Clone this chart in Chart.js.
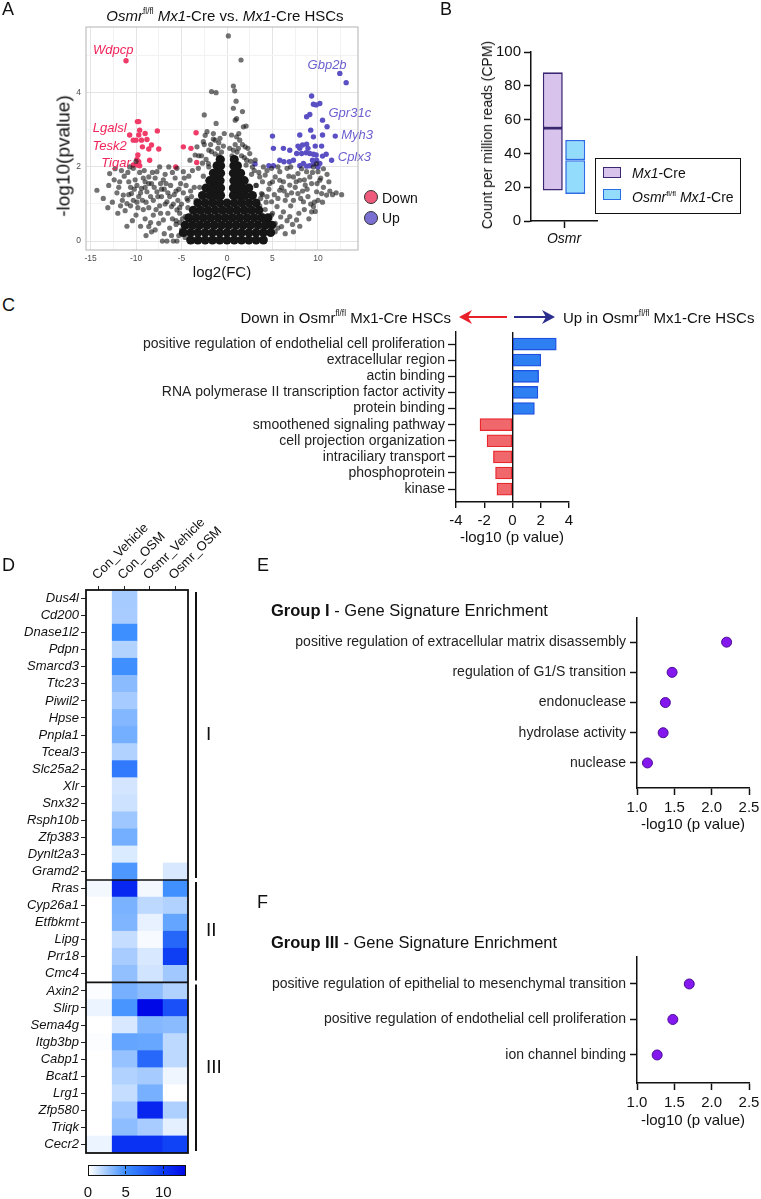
<!DOCTYPE html>
<html>
<head>
<meta charset="utf-8">
<script src="https://cdn.jsdelivr.net/npm/chart.js@4.4.1/dist/chart.umd.min.js"></script>
<style>
body{margin:0;background:#fff;font-family:"Liberation Sans",Arial,Helvetica,sans-serif;color:#111;}
#page{position:relative;width:761px;height:1199px;overflow:hidden;background:#fff;}
canvas{position:absolute;}
.abs{position:absolute;}
.t{position:absolute;white-space:nowrap;line-height:1;z-index:2;}
.l{transform:translate(0,-50%);}
.r{transform:translate(-100%,-50%);}
.c{transform:translate(-50%,-50%);}
.rot{transform:translate(-50%,-50%) rotate(-90deg);}
.dot{position:absolute;width:12px;height:12px;border-radius:50%;border:1px solid #333;z-index:2;}
sup{font-size:0.55em;vertical-align:0.75em;line-height:0;}
.letter{font-size:18px;}
</style>
</head>
<body>
<div id="page">
  <canvas id="volcano" width="380" height="280" style="left:0;top:0"></canvas>
  <canvas id="cpm" width="381" height="260" style="left:380px;top:0"></canvas>
  <canvas id="go" width="761" height="225" style="left:0;top:325px"></canvas>
  <canvas id="heat" width="260" height="680" style="left:0;top:520px"></canvas>
  <canvas id="groupI" width="501" height="240" style="left:260px;top:600px"></canvas>
  <canvas id="groupIII" width="501" height="200" style="left:260px;top:945px"></canvas>

  <!-- A -->
  <div class="t l letter" style="left:2px;top:9px">A</div>
  <div class="t c" style="left:225px;top:15px;font-size:15px"><i>Osmr</i><sup>fl/fl</sup> <i>Mx1</i>-Cre vs. <i>Mx1</i>-Cre HSCs</div>
  <div class="t rot" style="left:63px;top:156px;font-size:19px">-log10(pvalue)</div>
  <div class="t c" style="left:222px;top:271px;font-size:15px">log2(FC)</div>
  <div class="dot" style="left:364px;top:190px;background:#ee5a7c"></div>
  <div class="t l" style="left:382px;top:198px;font-size:14px">Down</div>
  <div class="dot" style="left:364px;top:211px;background:#7a70d2"></div>
  <div class="t l" style="left:382px;top:218px;font-size:14px">Up</div>

  <!-- B -->
  <div class="t l letter" style="left:440px;top:9px">B</div>
  <div class="t rot" style="left:487px;top:135px;font-size:14px">Count per million reads (CPM)</div>
  <div class="abs" style="left:595px;top:158px;width:144px;height:54px;border:1.5px solid #111"></div>
  <div class="abs" style="left:603px;top:167px;width:16px;height:9px;background:#d7c3ec;border:1.5px solid #3b2771"></div>
  <div class="t l" style="left:632px;top:173px;font-size:14px"><i>Mx1</i>-Cre</div>
  <div class="abs" style="left:603px;top:189px;width:16px;height:9px;background:#93dcfb;border:1.5px solid #2a6ee6"></div>
  <div class="t l" style="left:632px;top:197px;font-size:14px"><i>Osmr</i><sup>fl/fl</sup> <i>Mx1</i>-Cre</div>

  <!-- C -->
  <div class="t l letter" style="left:2px;top:305px">C</div>
  <div class="t r" style="left:451px;top:317px;font-size:15px">Down in Osmr<sup>fl/fl</sup> Mx1-Cre HSCs</div>
  <div class="t l" style="left:563px;top:317px;font-size:15px">Up in Osmr<sup>fl/fl</sup> Mx1-Cre HSCs</div>
  <svg class="abs" style="left:450px;top:308px" width="115" height="18">
    <line x1="57" y1="9" x2="16" y2="9" stroke="#e8202a" stroke-width="2"/>
    <polygon points="9,9 22,2 18,9 22,16" fill="#e8202a"/>
    <line x1="64" y1="9" x2="98" y2="9" stroke="#2b2e8c" stroke-width="2"/>
    <polygon points="105,9 92,2 96,9 92,16" fill="#2b2e8c"/>
  </svg>
  <div class="t c" style="left:512px;top:536px;font-size:15px">-log10 (p value)</div>

  <!-- D -->
  <div class="t l letter" style="left:2px;top:565px">D</div>
  <div id="colorbar" class="abs" style="left:88px;top:1165px;width:98px;height:11px;border:1.5px solid #111;box-sizing:border-box"></div>

  <!-- E -->
  <div class="t l letter" style="left:257px;top:565px">E</div>
  <div class="t l" style="left:271px;top:610px;font-size:16.5px"><b>Group I</b> - Gene Signature Enrichment</div>
  <div class="t c" style="left:693px;top:823px;font-size:15px">-log10 (p value)</div>

  <!-- F -->
  <div class="t l letter" style="left:257px;top:902px">F</div>
  <div class="t l" style="left:271px;top:942px;font-size:16.5px"><b>Group III</b> - Gene Signature Enrichment</div>
  <div class="t c" style="left:693px;top:1119px;font-size:15px">-log10 (p value)</div>
</div>

<script>
// ---------- A: volcano (log2FC, -log10 p) ----------
const volcanoXGrid = [-15, -12.5, -10, -7.5, -5, -2.5, 0, 2.5, 5, 7.5, 10, 12.5];
const volcanoXLabels = [-15, -10, -5, 0, 5, 10];
const volcanoYGrid = [0, 1, 2, 3, 4, 5];
const volcanoYLabels = [0, 2, 4];

// scattered non-significant genes
const volcanoOther = [
  [0.15,5.53],[1.54,4.88],[0.7,4.18],[0.84,4.05],[-1.7,4.03],[-1.2,4.0],[1.0,3.77],[1.7,3.49],[-2.5,3.4],[0.7,3.58],
  [1.06,3.3],[0.9,3.26],[1.8,3.08],[2.1,3.1],[-1.2,3.17],[-1.5,2.9],[-2.2,2.95],[-0.77,2.77],[-1.3,2.72],[-0.4,2.56],
  [-1.7,2.41],[-3.3,2.54],[-3.5,2.32],[-2.6,2.68],[-2.05,2.09],[-3.15,1.96],[-4.07,2.18],[-4.8,1.87],[-5.5,1.96],[-6.4,2.0],
  [1.06,2.81],[0.5,2.86],[1.4,2.72],[2.0,2.54],[2.5,2.36],[3.1,2.18],[2.16,2.18],[1.25,2.5],[0.7,2.45],[-0.9,2.3],
  [-1.0,2.5],[-2.3,2.2],[-2.8,2.3],[1.6,2.3],[2.8,2.0],[-1.8,2.6],
  [-0.6,2.4],[-1.3,2.35],[-2.0,2.45],[-2.5,2.6],[-1.5,2.75],[-0.9,2.65],[-0.5,2.2],[0.55,2.3],[1.1,2.4],[1.7,2.6],
  [2.3,2.5],[1.3,2.9],[0.9,2.6],[1.9,2.25],[2.6,2.15],[-2.7,2.1],[-3.1,2.3],[-2.4,2.85],[0.3,2.5],[-0.3,2.9],
  [-7.4,2.0],[-7.7,1.87],[-8.6,1.73],[-10.3,1.96],[-10.7,2.0],[-11.8,1.6],[-12.9,1.82],[-14.3,1.37],[-11.4,1.24],[-11.0,1.01],
  [-11.2,0.82],[-10.5,1.28],[-9.9,1.5],[-9.4,1.42],[-8.8,1.33],[-8.3,1.55],[-7.7,1.33],[-7.2,1.2],[-6.6,1.06],[-6.1,0.93],
  [-5.5,0.84],[-5.2,0.75],[-4.6,0.66],[-8.6,0.39],[-8.3,0.25],[-7.5,0.48],[-7.0,0.57],[-7.1,0],[-6.6,0],[-5.9,0],
  [-5.5,0],[-3.7,0],[-3.15,0],[-4.07,0.21],[-3.3,0.3],[-2.8,0.43],
  [-9.6,1.85],[-9.2,1.7],[-9.0,1.6],[-10.1,1.65],[-10.6,1.45],[-9.7,1.2],[-9.3,1.1],[-8.9,1.05],[-8.4,1.2],[-8.0,1.45],
  [-7.9,1.7],[-7.3,1.55],[-6.9,1.4],[-6.5,1.3],[-6.2,1.5],[-5.8,1.25],[-5.4,1.1],[-5.0,1.0],[-4.8,1.3],[-5.1,1.55],
  [-5.7,1.7],[-6.8,1.8],[-4.5,1.5],[-4.2,1.75],[-3.9,1.2],[-4.3,0.9],[-6.0,0.6],[-6.5,0.75],[-7.8,0.85],[-8.1,0.7],
  [-9.0,0.6],[-9.8,0.9],[-10.3,1.1],[-12.1,1.3],[-12.6,1.05],[-11.7,0.95],[-13.0,1.5],[-11.3,1.75],[-10.0,2.15],[-10.9,1.85],
  [-12.3,1.95],[-9.5,0.4],[-8.9,0.15],[-7.9,0.3],[-6.9,0.2],[-6.3,0.35],[-5.6,0.45],[-5.0,0.3],[-4.6,0.1],[-3.9,0.55],
  [-13.6,1.15],[-10.0,0.7],[-9.1,1.9],[-8.2,1.85],[-7.0,1.65],[-6.0,1.85],[-5.3,1.4],[-4.4,1.15],[-8.6,0.9],[-7.4,0.95],
  [-11.9,1.45],[-12.4,1.65],[-11.6,1.9],[-10.8,1.6],[-10.2,1.4],[-10.8,1.25],[-11.5,1.1],[-10.6,0.95],[-9.9,1.05],[-9.5,1.3],
  [-9.0,1.45],[-8.6,1.55],[-8.1,1.1],[-7.6,1.2],[-7.2,1.4],[-6.7,1.55],[-6.3,1.2],[-5.9,1.0],[-5.2,0.9],[-4.9,0.6],
  [-4.4,0.4],[-5.3,0.15],[-6.1,0.15],[-7.3,0.75],[-8.4,0.5],[-9.2,0.85],[-10.4,0.55],[-12.0,0.75],[-13.1,0.9],[-11.0,0.4],
  [-6.8,1.0],[-5.6,1.35],[-4.7,1.7],[-3.8,1.9],[-3.6,1.45],[-3.4,1.1],[-4.0,1.35],
  [-5.2,0.5],[-5.0,0.2],[-4.3,1.1],[-3.0,1.45],[-2.6,1.75],[-2.0,2.0],[-5.6,0.55],
  [3.6,1.73],[4.2,1.78],[4.7,1.55],[5.3,1.73],[5.8,1.87],[6.6,1.96],[7.3,1.73],[8.0,1.64],[8.6,1.51],[9.1,1.73],
  [9.5,2.0],[10.0,1.87],[10.2,1.64],[9.85,1.33],[10.4,1.28],[10.95,1.24],[9.5,0.93],[9.3,0.79],[7.65,0.57],[6.9,0.66],
  [6.2,0.79],[5.5,0.93],[4.9,1.06],[4.4,1.2],[3.8,1.28],[5.8,1.37],[6.6,1.24],[7.3,1.1],[7.8,1.28],[8.4,1.06],
  [8.9,1.2],[6.0,0.39],[5.3,0.48],[4.5,0.57],[4.0,0.34],[2.9,0.21],[3.4,0.48],[5.8,1.64],[6.9,1.51],[7.8,1.82],
  [8.75,1.87],[9.85,2.09],[4.9,1.96],[3.2,1.5],[3.0,1.9],[4.0,2.0],[7.0,2.0],[8.2,1.95],[10.3,1.7],[11.2,1.6],
  [9.3,1.55],[8.3,1.35],[7.0,0.95],[6.4,1.1],[5.0,0.75],[4.2,0.85],[3.6,0.95],[8.0,0.4],[9.6,1.05],[10.6,1.95],
  [11.6,1.25],[12.0,1.3],[9.7,0.8],[5.2,1.25],[6.2,1.6],[7.5,1.45],[4.6,1.4],[3.9,1.6],
  [4.4,1.9],[5.0,1.6],[5.6,1.15],[6.3,1.35],[7.1,1.3],[7.6,1.6],[8.1,1.15],[8.8,1.4],[9.2,1.0],[10.0,1.1],
  [10.6,1.45],[11.0,1.8],[9.9,1.55],[8.5,0.85],[7.9,0.75],[7.2,0.45],[6.6,0.55],[5.9,0.65],[5.3,0.25],[4.8,0.4],
  [4.3,1.05],[3.7,1.15],[3.5,1.85],[5.6,2.0],[6.0,1.45],[6.8,1.75],[8.5,1.65],[9.4,1.85],[10.5,1.05],[11.3,1.35],
  [12.6,1.25],[9.0,0.6],[7.3,0.25],[6.4,0.2],[3.9,0.7],
  [4.9,0.7],[5.2,0.45],[3.9,1.25],[3.2,1.5],[2.7,1.8],[2.1,2.05],[5.6,0.35]
];
// dense core of the volcano
const volcanoCore = [
  [-4.0,0.03],[-3.2,0.03],[-2.4,0.03],[-1.6,0.03],[-0.8,0.03],[0,0.03],[0.8,0.03],[1.6,0.03],[2.4,0.03],[3.2,0.03],[4.0,0.03],
  [-4.8,0.23],[-4.0,0.23],[-3.2,0.23],[-2.4,0.23],[-1.6,0.23],[-0.8,0.23],[0,0.23],[0.8,0.23],[1.6,0.23],[2.4,0.23],[3.2,0.23],[4.0,0.23],[4.8,0.23],
  [-4.6,0.43],[-3.8,0.43],[-3.0,0.43],[-2.2,0.43],[-1.4,0.43],[-0.6,0.43],[0.2,0.43],[1.0,0.43],[1.8,0.43],[2.6,0.43],[3.4,0.43],[4.2,0.43],[4.9,0.43],
  [-4.2,0.63],[-3.4,0.63],[-2.6,0.63],[-1.8,0.63],[-1.0,0.63],[-0.2,0.63],[0.6,0.63],[1.4,0.63],[2.2,0.63],[3.0,0.63],[3.8,0.63],[4.5,0.63],
  [-3.7,0.83],[-2.9,0.83],[-2.1,0.83],[-1.3,0.83],[-0.5,0.83],[0.3,0.83],[1.1,0.83],[1.9,0.83],[2.7,0.83],[3.5,0.83],
  [-3.2,1.03],[-2.4,1.03],[-1.6,1.03],[-0.8,1.03],[0,1.03],[0.8,1.03],[1.6,1.03],[2.4,1.03],[3.2,1.03],
  [-2.7,1.23],[-1.9,1.23],[-1.2,1.23],[-0.7,1.23],[0.7,1.23],[1.3,1.23],[2.0,1.23],[2.8,1.23],
  [-2.3,1.43],[-1.6,1.43],[-1.1,1.43],[-0.7,1.43],[0.7,1.43],[1.1,1.43],[1.7,1.43],[2.4,1.43],
  [-1.9,1.63],[-1.3,1.63],[-0.75,1.63],[0.75,1.63],[1.3,1.63],[1.9,1.63],
  [-1.5,1.83],[-1.05,1.83],[-0.7,1.83],[0.7,1.83],[1.1,1.83],[1.5,1.83],
  [-1.1,2.03],[-0.7,2.03],[0.75,2.03],[1.15,2.03],
  [-0.75,2.2],[0.8,2.2]
];
const volcanoDown = [
  [-11.1,4.86],[-9.85,3.22],[-9.7,3.22],[-10.7,2.86],[-9.6,2.99],[-9.0,2.9],[-7.66,2.97],[-10.0,2.72],[-9.4,2.72],[-9.7,2.86],
  [-10.3,2.72],[-8.8,2.74],[-9.3,2.54],[-8.3,2.59],[-8.6,2.48],[-7.5,2.48],[-9.8,2.32],[-8.5,2.18],[-10.3,2.05],[-9.85,2.05],
  [-9.6,2.03],[-9.7,2.14],[-9.9,2.2],[-4.8,2.54],[-3.96,2.5],[-3.4,2.92],[-3.33,2.12],[-5.64,2.0]
];
const volcanoUp = [
  [12.4,4.52],[13.1,4.27],[9.3,3.91],[9.5,3.69],[9.8,3.67],[10.2,3.71],[8.75,3.35],[9.1,3.41],[10.5,3.26],[11.0,3.08],
  [5.0,2.83],[9.2,2.99],[9.5,2.81],[10.5,2.86],[11.9,2.83],[8.0,2.86],[5.1,2.5],[6.2,2.5],[6.9,2.45],[7.8,2.56],
  [8.0,2.5],[8.3,2.59],[8.75,2.61],[8.9,2.5],[8.7,2.38],[9.1,2.36],[9.5,2.34],[9.8,2.32],[7.66,2.36],[8.2,2.36],
  [7.3,2.18],[6.85,2.14],[6.26,2.14],[5.8,2.18],[8.4,2.09],[8.75,2.02],[9.1,2.03],[9.5,2.08],[10.0,2.0],[10.5,2.29],
  [10.9,2.34],[11.5,2.18],[10.4,2.56],[9.7,2.56],[3.08,2.08],[4.6,2.03],[5.1,2.03],[9.4,2.18],[9.85,2.18],[10.2,2.09],[8.0,2.03]
];
const downGenes = ['Wdpcp', 'Lgalsl', 'Tesk2', 'Tigar'];
const downGeneFC = [-12.5, -12.9, -12.9, -12.2];
const downGeneP = [5.15, 3.05, 2.56, 2.1];
const upGenes = ['Gbp2b', 'Gpr31c', 'Myh3', 'Cplx3'];
const upGeneFC = [11.0, 13.5, 14.3, 14.0];
const upGeneP = [4.74, 3.45, 2.86, 2.26];

// ---------- B: CPM floating bars (min / median / max) ----------
const cpmCategory = ['Osmr'];
const cpmGroups = ['Mx1-Cre', 'Osmr fl/fl Mx1-Cre'];
const cpmMin = [18, 16];
const cpmMedian = [55, 36];
const cpmMax = [88, 48];

// ---------- C: GO terms ----------
const goTerms = [
  'positive regulation of endothelial cell proliferation', 'extracellular region', 'actin binding',
  'RNA polymerase II transcription factor activity', 'protein binding', 'smoothened signaling pathway',
  'cell projection organization', 'intraciliary transport', 'phosphoprotein', 'kinase'
];
const goValues = [3.1, 2.0, 1.85, 1.8, 1.55, -2.3, -1.8, -1.35, -1.2, -1.1];
const goTicks = [-4, -2, 0, 2, 4];

// ---------- D: heatmap ----------
const heatGenes = ['Dus4l','Cd200','Dnase1l2','Pdpn','Smarcd3','Ttc23','Piwil2','Hpse','Pnpla1','Tceal3','Slc25a2','Xlr',
  'Snx32','Rsph10b','Zfp383','Dynlt2a3','Gramd2','Rras','Cyp26a1','Etfbkmt','Lipg','Prr18','Cmc4','Axin2','Slirp',
  'Sema4g','Itgb3bp','Cabp1','Bcat1','Lrg1','Zfp580','Triqk','Cecr2'];
const heatConditions = ['Con_Vehicle', 'Con_OSM', 'Osmr_Vehicle', 'Osmr_OSM'];
const conVehicle = [0,0,0,0,0,0,0,0,0,0,0,0,0,0,0,0,0, 0.3,0,0,0,0,0, 0.1,0.5,0,0.1,0,0,0,0,0,0.5];
const conOSM = [2.3,2.25,5.0,1.95,4.95,3.0,2.3,3.2,3.6,2.0,6.2,1.1,1.3,2.5,3.6,0.95,4.6,
  11.2,3.4,3.3,1.5,2.25,2.8, 3.5,4.7,1.0,4.0,2.7,2.0,1.5,2.4,2.9,10.6];
const osmrVehicle = [0,0,0,0,0,0,0,0,0,0,0,0,0,0,0,0,0, 0.3,1.7,0.6,0.2,1.0,1.2,
  2.9,13,3.2,3.9,7.3,2.3,3.5,11.3,2.25,10.6];
const osmrOSM = [0,0,0,0,0,0,0,0,0,0,0,0,0,0,0,0,1.0, 4.9,2.0,4.0,7.4,9.8,2.4,
  2.0,8.8,3.0,1.7,1.7,0.4,0,2.1,0.7,9.6];
const heatColumns = [conVehicle, conOSM, osmrVehicle, osmrOSM];
const geneGroups = ['I', 'II', 'III'];
const groupSizes = [17, 6, 10];
const heatMax = 13;
const colorbarTicks = [0, 5, 10];

// ---------- E / F: enrichment dots ----------
const groupITerms = ['positive regulation of extracellular matrix disassembly', 'regulation of G1/S transition',
  'endonuclease', 'hydrolase activity', 'nuclease'];
const groupIValues = [2.2, 1.47, 1.38, 1.35, 1.14];
const groupIIITerms = ['positive regulation of epithelial to mesenchymal transition',
  'positive regulation of endothelial cell proliferation', 'ion channel binding'];
const groupIIIValues = [1.7, 1.48, 1.27];
const enrichTicks = [1.0, 1.5, 2.0, 2.5];

// ---------- styling helpers ----------
const FONT = '"Liberation Sans", Arial, Helvetica, sans-serif';
Chart.defaults.font.family = FONT;
Chart.defaults.color = '#111';
Chart.defaults.animation = false;
Chart.defaults.plugins.legend.display = false;
Chart.defaults.plugins.tooltip.enabled = false;

// fix an axis box size so the plot area lands where the figure has it
function pin(size) {
  return s => {
    if (s.isHorizontal()) s.height = size; else s.width = size;
    s.paddingLeft = s.paddingRight = s.paddingTop = s.paddingBottom = 0;
  };
}
function useTicks(values) {
  return s => { s.ticks = values.map(v => ({value: v})); };
}
const pts = a => a.map(([x, y]) => ({x, y}));

const heatStops = [[0, [255,255,255]], [5, [61,142,255]], [10, [13,60,245]], [13, [0,8,232]]];
function heatColor(v) {
  for (let i = 1; i < heatStops.length; i++) {
    const [v1, c1] = heatStops[i];
    const [v0, c0] = heatStops[i - 1];
    if (v <= v1 || i === heatStops.length - 1) {
      const t = Math.max(0, Math.min(1, (v - v0) / (v1 - v0)));
      const c = c0.map((ch, k) => Math.round(ch + (c1[k] - ch) * t));
      return 'rgb(' + c.join(',') + ')';
    }
  }
}

const framePlugin = {
  id: 'frame',
  afterDraw(chart, args, opts) {
    if (!opts || !opts.color) return;
    const {ctx, chartArea: a} = chart;
    ctx.save();
    ctx.strokeStyle = opts.color;
    ctx.lineWidth = opts.width || 1;
    ctx.strokeRect(a.left, a.top, a.right - a.left, a.bottom - a.top);
    ctx.restore();
  }
};

const geneLabelPlugin = {
  id: 'geneLabels',
  afterDatasetsDraw(chart) {
    const {ctx, scales: {x, y}} = chart;
    ctx.save();
    ctx.font = 'italic 13px ' + FONT;
    ctx.textAlign = 'center';
    ctx.textBaseline = 'middle';
    ctx.fillStyle = '#f0245a';
    downGenes.forEach((g, i) => ctx.fillText(g, x.getPixelForValue(downGeneFC[i]), y.getPixelForValue(downGeneP[i])));
    ctx.fillStyle = '#6a5fd0';
    upGenes.forEach((g, i) => ctx.fillText(g, x.getPixelForValue(upGeneFC[i]), y.getPixelForValue(upGeneP[i])));
    ctx.restore();
  }
};

const groupPlugin = {
  id: 'groups',
  afterDatasetsDraw(chart) {
    const {ctx, chartArea: a, scales: {y}} = chart;
    const rowH = (a.bottom - a.top) / heatGenes.length;
    ctx.save();
    ctx.strokeStyle = '#111';
    ctx.fillStyle = '#111';
    let start = 0;
    geneGroups.forEach((name, g) => {
      const end = start + groupSizes[g];
      const top = y.getPixelForValue(start) - rowH / 2;
      const bottom = y.getPixelForValue(end - 1) + rowH / 2;
      if (start > 0) {
        ctx.lineWidth = 1.6;
        ctx.beginPath(); ctx.moveTo(a.left, top); ctx.lineTo(a.right, top); ctx.stroke();
      }
      ctx.lineWidth = 2;
      ctx.beginPath(); ctx.moveTo(a.right + 8, top + 2); ctx.lineTo(a.right + 8, bottom - 2); ctx.stroke();
      ctx.font = '19px ' + FONT;
      ctx.textAlign = 'left';
      ctx.textBaseline = 'middle';
      ctx.fillText(name, a.right + 18, (top + bottom) / 2);
      start = end;
    });
    ctx.restore();
  }
};

// ---------- A ----------
new Chart(document.getElementById('volcano'), {
  type: 'scatter',
  data: {datasets: [
    {data: pts(volcanoOther), backgroundColor: 'rgba(20,20,20,0.6)', pointRadius: 2.6, borderWidth: 0},
    {data: pts(volcanoCore), backgroundColor: '#161616', pointRadius: 4.5, borderWidth: 0},
    {data: pts(volcanoDown), backgroundColor: '#f03a68', pointRadius: 2.7, borderWidth: 0},
    {data: pts(volcanoUp), backgroundColor: '#5b4fc4', pointRadius: 2.7, borderWidth: 0}
  ]},
  options: {
    responsive: false,
    layout: {padding: {top: 27, right: 22, left: 0, bottom: 0}},
    scales: {
      x: {
        type: 'linear', min: -15.5, max: 14.4,
        afterBuildTicks: useTicks(volcanoXGrid), afterFit: pin(30),
        ticks: {autoSkip: false, maxRotation: 0, padding: 4, color: '#4d4d4d', font: {size: 8.5},
          callback: v => volcanoXLabels.includes(v) ? String(v) : ''},
        grid: {drawTicks: false, color: c => volcanoXLabels.includes(c.tick.value) ? '#e4e4e4' : '#f2f2f2'},
        border: {display: false}
      },
      y: {
        type: 'linear', min: -0.24, max: 5.77,
        afterBuildTicks: useTicks(volcanoYGrid), afterFit: pin(86),
        ticks: {autoSkip: false, padding: 5, color: '#4d4d4d', font: {size: 8.5},
          callback: v => volcanoYLabels.includes(v) ? String(v) : ''},
        grid: {drawTicks: false, color: c => volcanoYLabels.includes(c.tick.value) ? '#e4e4e4' : '#f2f2f2'},
        border: {display: false}
      }
    },
    plugins: {frame: {color: '#b3b3b3', width: 1}}
  },
  plugins: [framePlugin, geneLabelPlugin]
});

// ---------- B ----------
const cpmFill = ['#d7c3ec', '#93dcfb'];
const cpmLine = ['#3b2771', '#2a6ee6'];
const cpmSets = [];
cpmGroups.forEach((g, i) => {
  cpmSets.push({label: g, data: [[cpmMin[i], cpmMedian[i]]], stack: 'g' + i});
  cpmSets.push({label: g, data: [[cpmMedian[i], cpmMax[i]]], stack: 'g' + i});
});
cpmSets.forEach(ds => {
  const i = Number(ds.stack.slice(1));
  Object.assign(ds, {backgroundColor: cpmFill[i], borderColor: cpmLine[i], borderWidth: 1.6,
    borderSkipped: false, barPercentage: 0.89, categoryPercentage: 0.68});
});
new Chart(document.getElementById('cpm'), {
  type: 'bar',
  data: {labels: cpmCategory, datasets: cpmSets},
  options: {
    responsive: false,
    layout: {padding: {top: 52, right: 164, left: 0, bottom: 0}},
    scales: {
      x: {
        stacked: true, afterFit: pin(39),
        ticks: {font: {size: 14, style: 'italic'}, padding: 3},
        grid: {offset: false, drawOnChartArea: false, tickLength: 7, tickColor: '#111', tickWidth: 1.5},
        border: {color: '#111', width: 1.5}
      },
      y: {
        stacked: false, min: 0, max: 100, afterFit: pin(151),
        ticks: {stepSize: 20, font: {size: 15}, padding: 3},
        grid: {drawOnChartArea: false, tickLength: 7, tickColor: '#111', tickWidth: 1.5},
        border: {color: '#111', width: 1.5}
      }
    }
  }
});

// ---------- C ----------
new Chart(document.getElementById('go'), {
  type: 'bar',
  data: {datasets: [{
    data: goValues.map((v, i) => ({x: v, y: i})),
    backgroundColor: c => c.raw.x > 0 ? '#2d7ff2' : '#f1686c',
    borderColor: c => c.raw.x > 0 ? '#1f50e0' : '#e8262e',
    borderWidth: 1.3, borderSkipped: false, barThickness: 12
  }]},
  options: {
    indexAxis: 'y',
    responsive: false,
    layout: {padding: {top: 7, right: 192, left: 0, bottom: 0}},
    scales: {
      x: {
        type: 'linear', min: -4, max: 4,
        afterBuildTicks: useTicks(goTicks), afterFit: pin(48),
        ticks: {font: {size: 15}, padding: 4},
        grid: {color: c => c.tick && c.tick.value === 0 ? '#111' : 'rgba(0,0,0,0)', lineWidth: 1.4,
          tickLength: 6, tickColor: '#111', tickWidth: 1.4},
        border: {color: '#111', width: 1.4}
      },
      y: {
        type: 'linear', reverse: true, min: -0.75, max: 9.8, offset: false,
        afterBuildTicks: useTicks(goTerms.map((t, i) => i)), afterFit: pin(456),
        ticks: {autoSkip: false, font: {size: 14}, color: '#222', padding: 3, callback: v => goTerms[v]},
        grid: {offset: false, drawOnChartArea: false, tickLength: 8, tickColor: '#111', tickWidth: 1.3},
        border: {color: '#111', width: 1.4}
      }
    }
  }
});

// ---------- D ----------
new Chart(document.getElementById('heat'), {
  type: 'bar',
  data: {
    labels: heatGenes,
    datasets: heatConditions.map((name, c) => ({
      label: name,
      data: heatGenes.map(() => [c, c + 1]),
      backgroundColor: ctx => heatColor(heatColumns[c][ctx.dataIndex]),
      borderWidth: 0, stack: 'cells', barPercentage: 1, categoryPercentage: 1
    }))
  },
  options: {
    indexAxis: 'y',
    responsive: false,
    layout: {padding: {top: 0, right: 72, left: 0, bottom: 47}},
    scales: {
      x: {
        type: 'linear', position: 'top', min: 0, max: 4, stacked: false,
        afterBuildTicks: useTicks(heatConditions.map((n, i) => i + 0.5)), afterFit: pin(70),
        ticks: {autoSkip: false, minRotation: 45, maxRotation: 45, font: {size: 13}, padding: 3, labelOffset: 7,
          callback: (v, i) => heatConditions[i]},
        grid: {drawOnChartArea: false, tickLength: 4, tickColor: '#222'},
        border: {display: false}
      },
      y: {
        stacked: true, afterFit: pin(86),
        ticks: {autoSkip: false, font: {size: 13, style: 'italic'}, padding: 2},
        grid: {offset: false, drawOnChartArea: false, tickLength: 5, tickColor: '#222'},
        border: {display: false}
      }
    },
    plugins: {frame: {color: '#111', width: 1.8}}
  },
  plugins: [groupPlugin, framePlugin]
});

// colour bar legend for D
(function () {
  const cb = document.getElementById('colorbar');
  const stops = heatStops.map(([v]) => heatColor(v) + ' ' + (v / heatMax * 100).toFixed(1) + '%');
  cb.style.background = 'linear-gradient(to right,' + stops.join(',') + ')';
  const page = document.getElementById('page');
  colorbarTicks.forEach(v => {
    const x = 88 + 98 * v / heatMax;
    if (v > 0) {
      const m = document.createElement('div');
      m.className = 'abs';
      m.style.cssText = 'left:' + (x - 0.75) + 'px;top:1166px;width:1.5px;height:9px;z-index:3;' +
        'background:repeating-linear-gradient(#111 0 3px,transparent 3px 5px)';
      page.appendChild(m);
    }
    const t = document.createElement('div');
    t.className = 't c';
    t.style.cssText = 'left:' + x + 'px;top:1191px;font-size:15px';
    t.textContent = String(v);
    page.appendChild(t);
  });
})();

// ---------- E / F ----------
function dotChart(id, terms, values, yMin, yMax, padTop, axisH) {
  return new Chart(document.getElementById(id), {
    type: 'scatter',
    data: {datasets: [{
      data: values.map((v, i) => ({x: v, y: i})),
      pointRadius: 5, backgroundColor: '#8416ee', borderColor: '#4a0d96', borderWidth: 1, clip: false
    }]},
    options: {
      responsive: false,
      layout: {padding: {top: padTop, right: 12, left: 0, bottom: 0}},
      scales: {
        x: {
          type: 'linear', min: 1, max: 2.5,
          afterBuildTicks: useTicks(enrichTicks), afterFit: pin(axisH),
          ticks: {font: {size: 15}, padding: 4, callback: v => v.toFixed(1)},
          grid: {drawOnChartArea: false, tickLength: 7, tickColor: '#111', tickWidth: 1.5},
          border: {color: '#111', width: 1.5}
        },
        y: {
          type: 'linear', reverse: true, min: yMin, max: yMax,
          afterBuildTicks: useTicks(terms.map((t, i) => i)), afterFit: pin(377),
          ticks: {autoSkip: false, font: {size: 14}, color: '#222', padding: 4, callback: v => terms[v]},
          grid: {drawOnChartArea: false, tickLength: 7, tickColor: '#111', tickWidth: 1.5},
          border: {color: '#111', width: 1.5}
        }
      }
    }
  });
}
dotChart('groupI', groupITerms, groupIValues, -0.8, 4.83, 18, 52);
dotChart('groupIII', groupIIITerms, groupIIIValues, -0.76, 2.79, 12, 62);
</script>
</body>
</html>
